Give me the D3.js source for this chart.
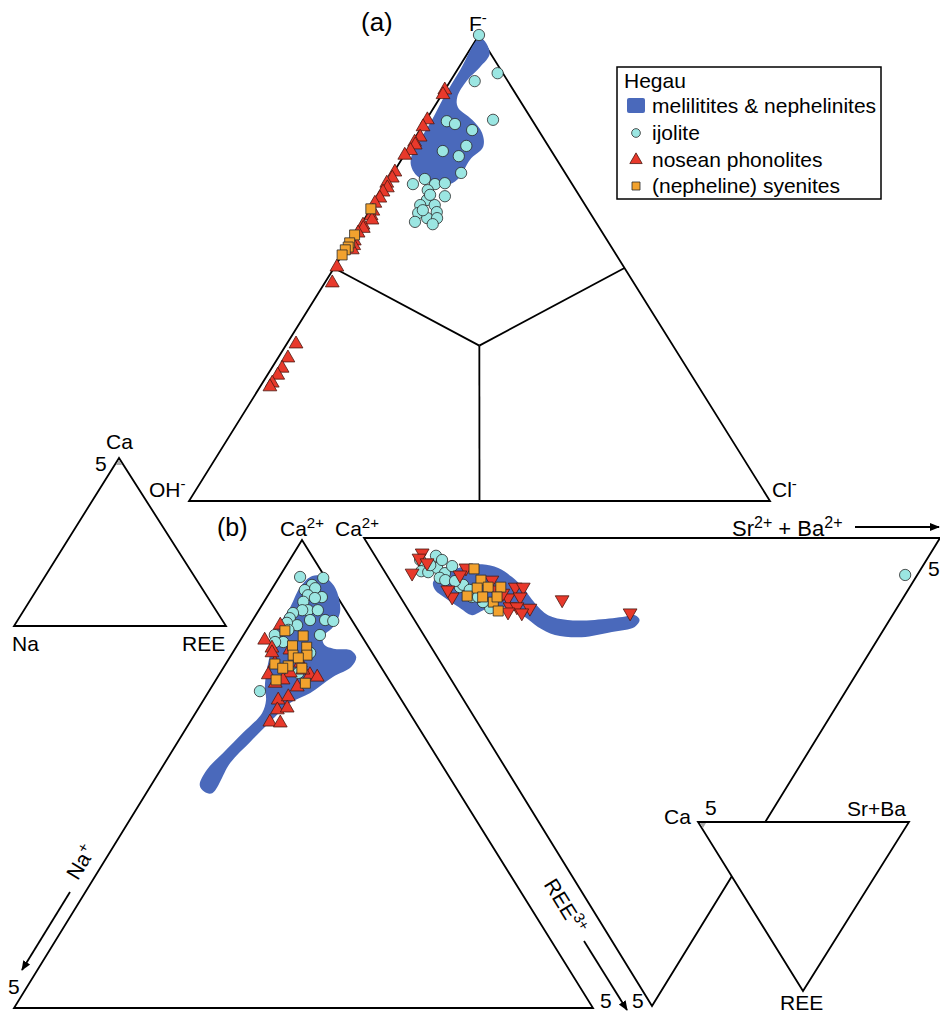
<!DOCTYPE html>
<html>
<head>
<meta charset="utf-8">
<script src="https://cdn.jsdelivr.net/npm/d3@7"></script>
<style>
  html, body { margin: 0; padding: 0; background: #fff; }
  svg { display: block; }
  text { font-family: "Liberation Sans", Arial, Helvetica, sans-serif; fill: #000; }
</style>
</head>
<body>
<svg id="chart" width="940" height="1013"></svg>
<script>
// ---- (a) X-site anions: [F fraction, Cl fraction], OH is the remainder ----
const aField = [[0.994,0.005],[0.961,0.038],[0.931,0.036],[0.903,0.028],[0.867,0.029],[0.845,0.041],[0.818,0.079],[0.790,0.110],[0.760,0.127],[0.732,0.118],[0.695,0.119],[0.680,0.110],[0.678,0.093],[0.687,0.064],[0.700,0.041],[0.721,0.022],[0.742,0.013],[0.775,0.011],[0.818,0.010],[0.871,0.006],[0.925,0.005]];
const aIjolite = [[1.000,0.000],[0.918,0.073],[0.901,0.042],[0.815,0.037],[0.809,0.054],[0.796,0.090],[0.818,0.115],[0.751,0.062],[0.762,0.097],[0.740,0.095],[0.704,0.117],[0.691,0.061],[0.680,0.046],[0.680,0.084],[0.682,0.100],[0.667,0.078],[0.654,0.114],[0.646,0.087],[0.635,0.081],[0.635,0.106],[0.620,0.117],[0.618,0.086],[0.607,0.107],[0.599,0.090],[0.607,0.124],[0.594,0.123],[0.657,0.087],[0.624,0.091]];
const aPhonolite = [[0.882,0.000],[0.872,0.002],[0.818,0.002],[0.803,0.002],[0.781,0.008],[0.770,0.004],[0.764,0.008],[0.752,0.006],[0.742,0.001],[0.706,0.002],[0.693,0.004],[0.682,0.000],[0.672,0.006],[0.663,0.003],[0.650,0.004],[0.639,0.001],[0.622,0.006],[0.612,0.008],[0.603,0.014],[0.592,0.004],[0.585,0.008],[0.575,0.004],[0.558,0.006],[0.548,0.010],[0.539,0.012],[0.502,0.004],[0.468,0.013],[0.337,0.016],[0.307,0.017],[0.285,0.018],[0.270,0.018],[0.253,0.017],[0.245,0.017]];
const aSyenite = [[0.627,0.000],[0.571,0.000],[0.554,0.000],[0.545,0.002],[0.539,0.000],[0.528,0.000]];

// ---- (b) left: [Ca fraction, REE fraction], Na is the remainder (apex sum = 5) ----
const bField = [[0.923,0.056],[0.921,0.078],[0.902,0.104],[0.872,0.128],[0.844,0.143],[0.814,0.146],[0.793,0.139],[0.776,0.150],[0.767,0.173],[0.765,0.200],[0.750,0.218],[0.729,0.220],[0.707,0.199],[0.673,0.177],[0.652,0.153],[0.611,0.138],[0.568,0.125],[0.524,0.113],[0.459,0.114],[0.462,0.099],[0.476,0.084],[0.509,0.080],[0.545,0.090],[0.588,0.103],[0.630,0.115],[0.658,0.108],[0.686,0.092],[0.729,0.075],[0.771,0.062],[0.814,0.051],[0.857,0.051],[0.900,0.047]];
const bIjolite = [[0.921,0.036],[0.919,0.077],[0.904,0.065],[0.893,0.058],[0.897,0.074],[0.882,0.069],[0.878,0.095],[0.876,0.084],[0.868,0.068],[0.850,0.085],[0.850,0.102],[0.850,0.075],[0.844,0.062],[0.833,0.062],[0.829,0.125],[0.827,0.140],[0.818,0.082],[0.829,0.099],[0.823,0.062],[0.808,0.072],[0.797,0.132],[0.797,0.054],[0.782,0.076],[0.782,0.062],[0.759,0.134],[0.716,0.135],[0.677,0.088]];
const bPhonolite = [[0.786,0.042],[0.818,0.053],[0.769,0.063],[0.737,0.084],[0.712,0.085],[0.716,0.121],[0.701,0.116],[0.712,0.157],[0.707,0.172],[0.694,0.106],[0.686,0.148],[0.658,0.129],[0.665,0.143],[0.637,0.138],[0.641,0.153],[0.611,0.138],[0.609,0.157],[0.759,0.068],[0.765,0.096],[0.737,0.128],[0.722,0.140]];
const bSyenite = [[0.806,0.067],[0.795,0.104],[0.774,0.096],[0.771,0.122],[0.754,0.107],[0.754,0.131],[0.748,0.119],[0.735,0.085],[0.731,0.110],[0.726,0.103],[0.726,0.136],[0.701,0.104],[0.694,0.158]];

// ---- (b) right, inverted: [REE fraction, Sr+Ba fraction], Ca is the remainder ----
const cField = [[0.094,0.073],[0.075,0.103],[0.062,0.139],[0.056,0.177],[0.064,0.201],[0.083,0.215],[0.107,0.223],[0.139,0.227],[0.165,0.237],[0.175,0.266],[0.175,0.313],[0.169,0.364],[0.165,0.388],[0.175,0.391],[0.190,0.375],[0.201,0.330],[0.212,0.272],[0.207,0.228],[0.190,0.207],[0.169,0.195],[0.150,0.175],[0.147,0.149],[0.160,0.118],[0.165,0.105],[0.147,0.090],[0.128,0.077],[0.111,0.068]];
const cIjolite = [[0.038,0.106],[0.047,0.074],[0.071,0.064],[0.073,0.075],[0.064,0.095],[0.075,0.103],[0.060,0.123],[0.085,0.089],[0.090,0.096],[0.105,0.114],[0.100,0.122],[0.126,0.124],[0.150,0.144],[0.137,0.138],[0.047,0.112],[0.079,0.900],[0.058,0.086],[0.092,0.112],[0.111,0.128],[0.126,0.135]];
const cPhonolite = [[0.032,0.085],[0.043,0.074],[0.075,0.046],[0.053,0.083],[0.064,0.145],[0.079,0.127],[0.126,0.090],[0.111,0.090],[0.090,0.177],[0.111,0.172],[0.128,0.186],[0.147,0.180],[0.105,0.210],[0.105,0.224],[0.126,0.208],[0.147,0.192],[0.150,0.213],[0.160,0.194],[0.132,0.278],[0.160,0.382],[0.158,0.171],[0.118,0.182]];
const cSyenite = [[0.066,0.158],[0.090,0.158],[0.107,0.143],[0.105,0.163],[0.105,0.185],[0.124,0.117],[0.126,0.143],[0.137,0.156],[0.156,0.155],[0.126,0.168]];

const legendItems = ["melilitites & nephelinites", "ijolite", "nosean phonolites", "(nepheline) syenites"];

// ---- styling ----
const COL = {
  field: "#4A69BB",
  ijolite: "#9BE6E2",
  phonolite: "#E8392B",
  syenite: "#F2A22E",
  edge: "#2a2a2a"
};

const svg = d3.select("#chart");
svg.append("rect").attr("width", 940).attr("height", 1013).attr("fill", "#fff");

// Ternary frame built from two linear scales: the "top" component drives y,
// the "right" component (plus a share of the top one) drives x.
function frame(top, left, right) {
  const y = d3.scaleLinear().domain([0, 1]).range([left[1], top[1]]);
  const x = d3.scaleLinear().domain([0, 1]).range([left[0], right[0]]);
  const k = (top[0] - left[0]) / (right[0] - left[0]);
  return (t, r) => [x(r + t * k), y(t)];
}

const fa = frame([479, 35], [189, 501], [770, 501]);     // F top, OH left, Cl right
const fb = frame([302, 540], [14, 1008], [593, 1008]);   // Ca top, Na left, REE right
const fc = frame([652, 1006], [364, 538], [940, 538]);   // REE bottom, Ca left, Sr+Ba right

const outline = d3.line();
const smooth = d3.line().curve(d3.curveCatmullRomClosed.alpha(0.5));

function drawTriangle(g, f) {
  const [t, l, r] = [f(1, 0), f(0, 0), f(0, 1)];
  g.append("path").attr("d", outline([t, l, r]) + "Z")
    .attr("fill", "none").attr("stroke", "#000").attr("stroke-width", 1.8)
    .attr("stroke-linejoin", "miter");
}

function drawField(g, f, pts) {
  g.append("path").attr("d", smooth(pts.map(p => f(p[0], p[1]))))
    .attr("fill", COL.field).attr("stroke", "none");
}

const circleSym = d3.symbol(d3.symbolCircle, 100);
const triSym = d3.symbol(d3.symbolTriangle, 82);
const sqSym = d3.symbol(d3.symbolSquare, 100);

function drawPoints(g, f, pts, kind, inverted) {
  const sym = kind === "ijolite" ? circleSym : kind === "phonolite" ? triSym : sqSym;
  g.selectAll(null).data(pts).join("path")
    .attr("d", sym())
    .attr("transform", d => {
      const [x, y] = f(d[0], d[1]);
      return `translate(${x},${y})` + (inverted && kind === "phonolite" ? " rotate(180)" : "");
    })
    .attr("fill", COL[kind])
    .attr("stroke", kind === "phonolite" ? "#4a1810" : COL.edge)
    .attr("stroke-width", 0.8);
}

// text with superscript pieces: parts = [["Ca"], ["2+", true], ...]
function richText(g, x, y, parts, opts = {}) {
  const size = opts.size || 21, sup = opts.sup || 15;
  const t = g.append("text").attr("x", x).attr("y", y).attr("font-size", size);
  if (opts.anchor) t.attr("text-anchor", opts.anchor);
  if (opts.rotate != null) t.attr("transform", `rotate(${opts.rotate},${x},${y})`);
  let raised = false;
  parts.forEach(([s, isSup]) => {
    const sp = t.append("tspan").text(s);
    if (isSup) sp.attr("font-size", sup);
    if (isSup && !raised) { sp.attr("dy", -8); raised = true; }
    else if (!isSup && raised) { sp.attr("dy", 8); raised = false; }
  });
  return t;
}

// arrowhead marker
svg.append("defs").append("marker")
  .attr("id", "arrow").attr("viewBox", "0 0 10 10").attr("refX", 9).attr("refY", 5)
  .attr("markerWidth", 10).attr("markerHeight", 10).attr("markerUnits", "userSpaceOnUse")
  .attr("orient", "auto")
  .append("path").attr("d", "M0,1 L10,5 L0,9 Z").attr("fill", "#000");

// ===== (a) =====
const ga = svg.append("g");
drawTriangle(ga, fa);
const ctr = fa(1 / 3, 1 / 3);
[[0.5, 0], [0.5, 0.5], [0, 0.5]].forEach(m => {
  ga.append("path").attr("d", outline([ctr, fa(m[0], m[1])]))
    .attr("stroke", "#000").attr("stroke-width", 1.8).attr("fill", "none");
});
drawField(ga, fa, aField);
drawPoints(ga, fa, aIjolite, "ijolite");
drawPoints(ga, fa, aPhonolite, "phonolite");
drawPoints(ga, fa, aSyenite, "syenite");

richText(svg, 361, 31, [["(a)"]], { size: 26 });
richText(svg, 469, 31, [["F"], ["-", true]]);
richText(svg, 149, 497, [["OH"], ["-", true]]);
richText(svg, 772, 497, [["Cl"], ["-", true]]);

// ===== (b) left =====
const gb = svg.append("g");
drawTriangle(gb, fb);
drawField(gb, fb, bField);
drawPoints(gb, fb, bIjolite, "ijolite");
drawPoints(gb, fb, bPhonolite, "phonolite");
drawPoints(gb, fb, bSyenite, "syenite");

// ===== (b) right, inverted =====
const gc = svg.append("g");
drawTriangle(gc, fc);
drawField(gc, fc, cField);
drawPoints(gc, fc, cIjolite, "ijolite", true);
drawPoints(gc, fc, cPhonolite, "phonolite", true);
drawPoints(gc, fc, cSyenite, "syenite", true);

richText(svg, 217, 536, [["(b)"]], { size: 25 });
richText(svg, 280, 536, [["Ca"], ["2+", true]]);
richText(svg, 335, 536, [["Ca"], ["2+", true]]);
richText(svg, 732, 536, [["Sr"], ["2+", true], [" + Ba"], ["2+", true]], { size: 22, sup: 16 });
svg.append("line").attr("x1", 855).attr("y1", 527).attr("x2", 939).attr("y2", 527)
  .attr("stroke", "#000").attr("stroke-width", 1.8).attr("marker-end", "url(#arrow)");
richText(svg, 928, 576, [["5"]]);

// Na+ axis arrow along the left edge
svg.append("line").attr("x1", 70).attr("y1", 892).attr("x2", 22).attr("y2", 970)
  .attr("stroke", "#000").attr("stroke-width", 1.8).attr("marker-end", "url(#arrow)");
richText(svg, 87, 866, [["Na"], ["+", true]], { anchor: "middle", rotate: -58.4 });
richText(svg, 8, 994, [["5"]]);

// REE3+ axis arrow between the two triangles
svg.append("line").attr("x1", 584).attr("y1", 941).attr("x2", 627).attr("y2", 1010)
  .attr("stroke", "#000").attr("stroke-width", 1.8).attr("marker-end", "url(#arrow)");
richText(svg, 559, 910, [["REE"], ["3+", true]], { anchor: "middle", rotate: 58.4 });
richText(svg, 600, 1008, [["5"]]);
richText(svg, 632, 1008, [["5"]]);

// ===== small key triangles =====
function keyTriangle(pts, mark) {
  const g = svg.append("g");
  g.append("path").attr("d", outline(pts) + "Z").attr("fill", "#fff")
    .attr("stroke", "#000").attr("stroke-width", 1.8);
  g.append("path").attr("d", outline(mark) + "Z").attr("fill", "#aaa");
  return g;
}
keyTriangle([[119, 458], [14, 626], [226, 626]], [[119, 460], [116, 465], [122, 465]]);
richText(svg, 106, 449, [["Ca"]]);
richText(svg, 95, 471, [["5"]]);
richText(svg, 12, 651, [["Na"]]);
richText(svg, 182, 651, [["REE"]]);

keyTriangle([[698, 822], [909, 822], [803, 991]], [[700, 823], [706, 823], [703, 828]]);
richText(svg, 664, 824, [["Ca"]]);
richText(svg, 705, 815, [["5"]]);
richText(svg, 847, 816, [["Sr+Ba"]]);
richText(svg, 780, 1010, [["REE"]]);

// ===== legend =====
const lg = svg.append("g");
lg.append("rect").attr("x", 617).attr("y", 67).attr("width", 264).attr("height", 132)
  .attr("fill", "#fff").attr("stroke", "#000").attr("stroke-width", 1.5);
richText(lg, 624, 88, [["Hegau"]]);
const rowY = [113, 140, 167, 193];
lg.append("rect").attr("x", 627).attr("y", rowY[0] - 15).attr("width", 18).attr("height", 15)
  .attr("rx", 2).attr("fill", COL.field);
lg.append("path").attr("d", d3.symbol(d3.symbolCircle, 60)())
  .attr("transform", `translate(636,${rowY[1] - 7})`)
  .attr("fill", COL.ijolite).attr("stroke", COL.edge).attr("stroke-width", 0.8);
lg.append("path").attr("d", d3.symbol(d3.symbolTriangle, 66)())
  .attr("transform", `translate(636,${rowY[2] - 7})`)
  .attr("fill", COL.phonolite).attr("stroke", "#4a1810").attr("stroke-width", 0.8);
lg.append("path").attr("d", d3.symbol(d3.symbolSquare, 64)())
  .attr("transform", `translate(636,${rowY[3] - 7})`)
  .attr("fill", COL.syenite).attr("stroke", COL.edge).attr("stroke-width", 0.8);
legendItems.forEach((s, i) => richText(lg, 652, rowY[i], [[s]]));
</script>
</body>
</html>
